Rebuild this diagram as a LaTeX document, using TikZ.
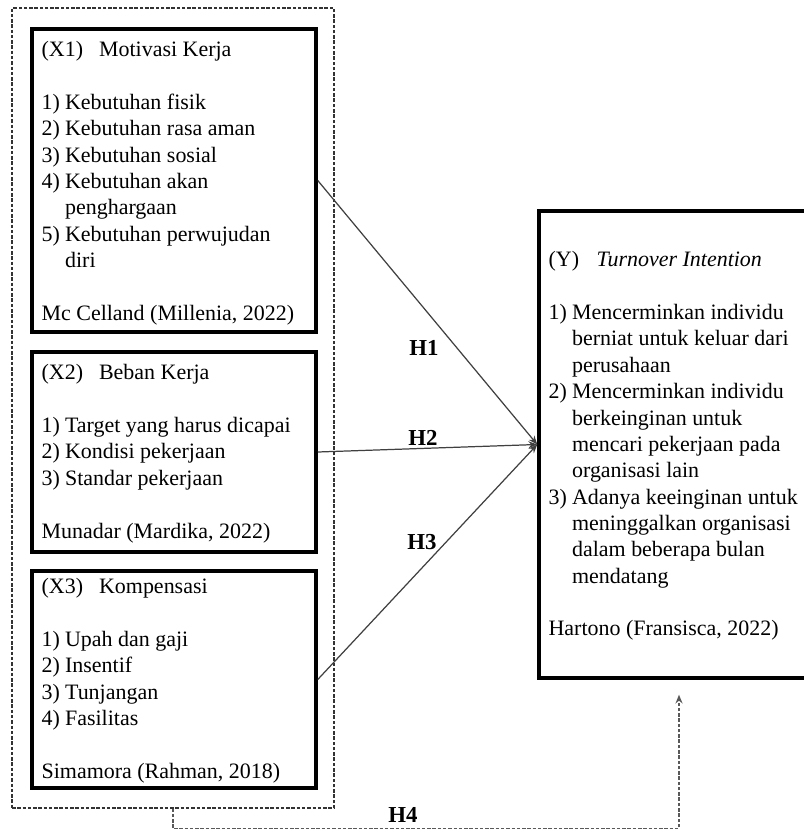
\documentclass[tikz,border=0pt]{standalone}
\usepackage{fontspec}
\setmainfont{Liberation Serif}
\usetikzlibrary{fit,arrows.meta}

% list item helpers
\newcommand{\li}[1]{\makebox[0.47cm][l]{#1)}}
\newcommand{\lc}{\hspace*{0.47cm}}

\tikzset{
  varbox/.style={draw, line width=2pt, inner sep=0pt},
  grpbox/.style={draw=black!80, dashed, line width=0.6pt, dash pattern=on 2pt off 1pt, inner sep=0pt},
  vartext/.style={anchor=north west, inner sep=0pt, align=left, font=\fontsize{12.5}{15}\selectfont},
  hlink/.style={draw=black!75, line width=0.7pt, -{Stealth[length=5pt,width=4pt]}},
  h4link/.style={draw=black!65, dashed, dash pattern=on 2pt off 1pt, line width=0.9pt, -{Stealth[length=5pt,width=4pt]}, shorten >=8.5pt},
  hlabel/.style={font=\fontsize{13}{15}\selectfont\bfseries, inner sep=1pt}
}

\begin{document}
\begin{tikzpicture}[x=0.2mm, y=-0.2mm]

\useasboundingbox (0,0) rectangle (804,831);

% Boxes
\node[grpbox, fit={(12,8) (334,808)}] (grp) {};
\node[varbox, fit={(32,29) (316,332)}] (x1) {};
\node[varbox, fit={(32,352) (316,552)}] (x2) {};
\node[varbox, fit={(32,571) (316,788)}] (x3) {};
\node[varbox, fit={(539,211) (819,678)}] (y) {};

% Box texts
\node[vartext] (x1txt) at ([shift={(11,14)}]x1.north west) {%
  \makebox[1.15cm][l]{(X1)}Motivasi Kerja\\[15pt]
  \li{1}Kebutuhan fisik\\
  \li{2}Kebutuhan rasa aman\\
  \li{3}Kebutuhan sosial\\
  \li{4}Kebutuhan akan\\
  \lc penghargaan\\
  \li{5}Kebutuhan perwujudan\\
  \lc diri\\[15pt]
  Mc Celland (Millenia, 2022)};

\node[vartext] (x2txt) at ([shift={(11,14)}]x2.north west) {%
  \makebox[1.15cm][l]{(X2)}Beban Kerja\\[15pt]
  \li{1}Target yang harus dicapai\\
  \li{2}Kondisi pekerjaan\\
  \li{3}Standar pekerjaan\\[15pt]
  Munadar (Mardika, 2022)};

\node[vartext] (x3txt) at ([shift={(11,9)}]x3.north west) {%
  \makebox[1.15cm][l]{(X3)}Kompensasi\\[15pt]
  \li{1}Upah dan gaji\\
  \li{2}Insentif\\
  \li{3}Tunjangan\\
  \li{4}Fasilitas\\[15pt]
  Simamora (Rahman, 2018)};

\node[vartext] (ytxt) at ([shift={(11,42)}]y.north west) {%
  \makebox[0.96cm][l]{(Y)}\textit{Turnover Intention}\\[15pt]
  \li{1}Mencerminkan individu\\
  \lc berniat untuk keluar dari\\
  \lc perusahaan\\
  \li{2}Mencerminkan individu\\
  \lc berkeinginan untuk\\
  \lc mencari pekerjaan pada\\
  \lc organisasi lain\\
  \li{3}Adanya keeinginan untuk\\
  \lc meninggalkan organisasi\\
  \lc dalam beberapa bulan\\
  \lc mendatang\\[15pt]
  Hartono (Fransisca, 2022)};

% Hypothesis links
\draw[hlink] (x1.east) -- (y.west);
\draw[hlink] (x2.east) -- (y.west);
\draw[hlink] (x3.east) -- (y.west);
\draw[h4link] (grp.south) -- ++(0,20) -| (y.south);

% Labels
\node[hlabel] (h1) at (424,348) {H1};
\node[hlabel] (h2) at (423,438) {H2};
\node[hlabel] (h3) at (422,542) {H3};
\node[hlabel] (h4) at (403,815) {H4};

\end{tikzpicture}
\end{document}
